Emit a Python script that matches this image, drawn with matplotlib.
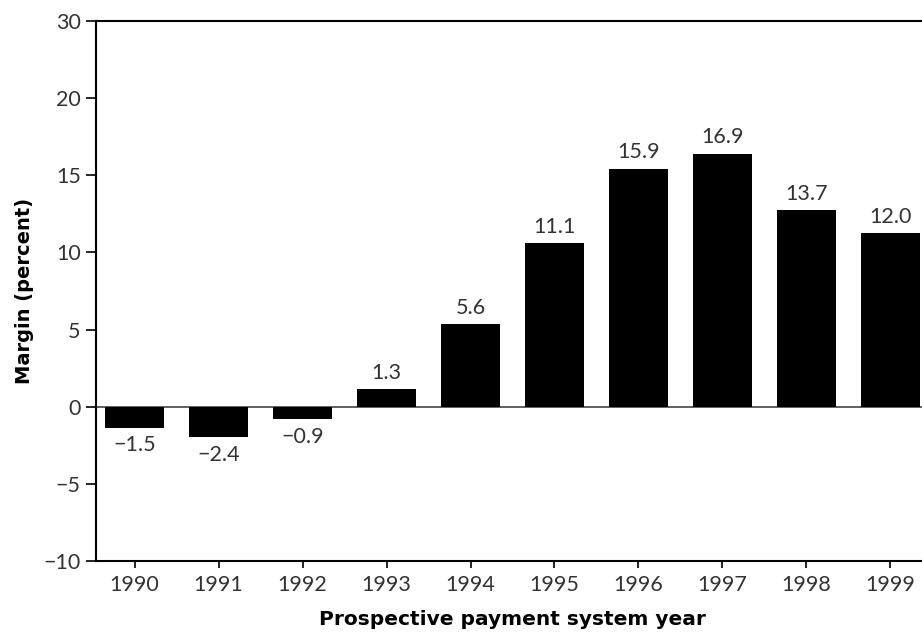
import matplotlib
matplotlib.use('Agg')
import matplotlib.pyplot as plt

years = ['1990', '1991', '1992', '1993', '1994', '1995', '1996', '1997', '1998', '1999']
# bar heights as drawn in the picture
heights = [-1.36, -1.95, -0.82, 1.15, 5.37, 10.63, 15.43, 16.41, 12.76, 11.28]
# printed value labels
labels = ['\u22121.5', '\u22122.4', '\u22120.9', '1.3', '5.6', '11.1', '15.9', '16.9', '13.7', '12.0']
yticks = [-10, -5, 0, 5, 10, 15, 20, 25]
ytick_labels = ['\u221210', '\u22125', '0', '5', '10', '15', '20', '30']

plt.rcParams['font.family'] = ['Lato', 'DejaVu Sans']
text_col = '#333333'
fs = 15.5

fig = plt.figure(figsize=(9.22, 6.35), dpi=100)
ax = fig.add_axes([96 / 922, (635 - 561) / 635, (929 - 96) / 922, (561 - 21) / 635])

x = list(range(len(years)))
ax.bar(x, heights, width=0.7, color='black', zorder=3)
ax.axhline(0, color='#444444', linewidth=1.2, zorder=2)

for xi, h, lab in zip(x, heights, labels):
    if h >= 0:
        ax.text(xi, h + 0.4, lab, ha='center', va='bottom', fontsize=fs, color=text_col)
    else:
        ax.text(xi, h - 0.5, lab, ha='center', va='top', fontsize=fs, color=text_col)

ax.set_xlim(-0.46, 9.46)
ax.set_ylim(-10, 25)
ax.set_xticks(x)
ax.set_xticklabels(years, fontsize=fs, color=text_col)
ax.set_yticks(yticks)
ax.set_yticklabels(ytick_labels, fontsize=fs, color=text_col)

ax.tick_params(axis='x', direction='out', length=5, width=1.2, pad=5)
ax.tick_params(axis='y', direction='out', length=7, width=1.2, pad=4)

for s in ['left', 'bottom', 'top']:
    ax.spines[s].set_linewidth(1.5)
    ax.spines[s].set_color('black')
ax.spines['right'].set_visible(False)

ax.set_xlabel('Prospective payment system year', fontsize=14.5, fontweight='bold',
              family='DejaVu Sans', labelpad=11)
ax.set_ylabel('Margin (percent)', fontsize=14, fontweight='bold',
              family='DejaVu Sans', labelpad=7)

fig.savefig('out.png', dpi=100)
